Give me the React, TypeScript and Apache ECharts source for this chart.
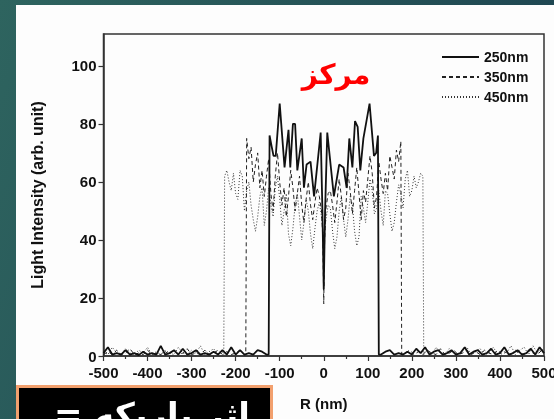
import React, { useEffect, useRef } from "react";
import * as echarts from "echarts";

const xTicks = [-500, -400, -300, -200, -100, 0, 100, 200, 300, 400, 500];
const xMinorTicks = [-450, -350, -250, -150, -50, 50, 150, 250, 350, 450];
const yTicks = [0, 20, 40, 60, 80, 100];
const seriesNames = ["250nm", "350nm", "450nm"];

const profile250: [number, number][] = [
  [-500, 1], [-490, 3], [-480, 0.5], [-470, 1], [-460, 0.5], [-450, 2], [-440, 0.5], [-430, 1], [-420, 0.3], [-410, 1.5],
  [-400, 0.5], [-390, 1], [-380, 0.5], [-370, 3.5], [-360, 0.5], [-350, 1], [-340, 2], [-330, 0.5], [-320, 2.5], [-310, 0.5],
  [-300, 1], [-290, 2], [-280, 0.5], [-270, 1], [-260, 0.5], [-250, 1.5], [-240, 0.5], [-230, 2], [-220, 0.5], [-210, 3],
  [-200, 0.5], [-190, 2], [-180, 0.5], [-170, 1], [-160, 0.5], [-150, 2], [-140, 1.5], [-130, 0.5],
  [-125, 0.5], [-123, 76], [-118, 72], [-114, 69], [-109, 69], [-100, 87], [-89, 65], [-80, 78], [-76, 65], [-70, 80],
  [-65, 80], [-60, 64], [-50, 75], [-45, 58], [-39, 66], [-30, 67], [-22, 55], [-7, 77], [-3, 50], [0, 23],
  [3, 50], [8, 77], [23, 55], [35, 66], [45, 65], [52, 58], [58, 75], [65, 65], [71, 81], [77, 79],
  [83, 64], [90, 75], [104, 87], [114, 69], [119, 70], [123, 76], [125, 0.5],
  [130, 0.5], [140, 1.5], [150, 2], [160, 0.5], [170, 1], [180, 0.5], [190, 1.5], [200, 0.5], [210, 2.5], [220, 1],
  [230, 3], [240, 0.5], [250, 1.5], [260, 2], [270, 0.5], [280, 1], [290, 2], [300, 0.5], [310, 1], [320, 3],
  [330, 0.5], [340, 1.5], [350, 2], [360, 0.5], [370, 1], [380, 2.5], [390, 0.5], [400, 1], [410, 3], [420, 0.5],
  [430, 1], [440, 2], [450, 0.5], [460, 1], [470, 2.5], [480, 0.5], [490, 3], [500, 1],
];

const profile350: [number, number][] = [
  [-500, 0.5], [-490, 1.5], [-480, 0.5], [-470, 2], [-460, 0.5], [-450, 1], [-440, 2.5], [-430, 0.5], [-420, 1], [-410, 0.5],
  [-400, 2], [-390, 0.5], [-380, 1], [-370, 0.5], [-360, 1.5], [-350, 0.5], [-340, 2], [-330, 0.5], [-320, 1], [-310, 2.5],
  [-300, 0.5], [-290, 1], [-280, 0.5], [-270, 2], [-260, 0.5], [-250, 1], [-240, 2], [-230, 0.5], [-220, 1.5], [-210, 0.5],
  [-200, 1], [-190, 2], [-180, 0.5], [-177, 0.5],
  [-175, 75], [-170, 68], [-165, 72], [-160, 60], [-155, 66], [-150, 70], [-145, 58], [-140, 64], [-135, 55], [-130, 62],
  [-125, 68], [-120, 56], [-115, 50], [-110, 62], [-105, 70], [-100, 60], [-95, 52], [-90, 58], [-85, 48], [-80, 55],
  [-75, 64], [-70, 58], [-65, 50], [-60, 56], [-55, 62], [-50, 52], [-45, 46], [-40, 54], [-35, 60], [-30, 52],
  [-25, 47], [-20, 53], [-15, 58], [-10, 55], [-5, 50], [-2, 40], [0, 18], [2, 40], [5, 51], [10, 56],
  [15, 57], [20, 52], [25, 46], [30, 53], [35, 61], [40, 55], [45, 47], [50, 51], [55, 63], [60, 57],
  [65, 49], [70, 57], [75, 65], [80, 56], [85, 47], [90, 57], [95, 53], [100, 61], [105, 69], [110, 63],
  [115, 51], [120, 55], [125, 67], [130, 61], [135, 56], [140, 63], [145, 57], [150, 69], [155, 65], [160, 61],
  [165, 71], [170, 67], [175, 74], [177, 0.5],
  [185, 1], [195, 2], [205, 0.5], [215, 1.5], [225, 0.5], [235, 2], [245, 1], [255, 0.5], [265, 2.5], [275, 0.5],
  [285, 1], [295, 2], [305, 0.5], [315, 1], [325, 2], [335, 0.5], [345, 1.5], [355, 0.5], [365, 2], [375, 1],
  [385, 0.5], [395, 2], [405, 0.5], [415, 1.5], [425, 0.5], [435, 2], [445, 1], [455, 0.5], [465, 2], [475, 1],
  [485, 0.5], [495, 2], [500, 1],
];

const profile450: [number, number][] = [
  [-500, 1.5], [-490, 0.5], [-480, 3], [-470, 1], [-460, 0.5], [-450, 2.5], [-440, 1], [-430, 0.5], [-420, 2], [-410, 1],
  [-400, 3], [-390, 0.5], [-380, 1.5], [-370, 0.5], [-360, 2], [-350, 1], [-340, 0.5], [-330, 3], [-320, 1], [-310, 0.5],
  [-300, 2], [-290, 1], [-280, 3.5], [-270, 0.5], [-260, 1.5], [-250, 2.5], [-240, 0.5], [-230, 1.5], [-227, 0.5],
  [-225, 62], [-220, 64], [-215, 60], [-210, 57], [-205, 63], [-200, 56], [-195, 54], [-190, 64], [-185, 62], [-180, 50],
  [-175, 57], [-170, 60], [-165, 52], [-160, 47], [-155, 43], [-150, 48], [-145, 55], [-140, 58], [-135, 45], [-130, 50],
  [-125, 58], [-120, 52], [-115, 48], [-110, 58], [-105, 62], [-100, 54], [-95, 45], [-90, 50], [-85, 56], [-80, 42],
  [-75, 38], [-70, 44], [-65, 52], [-60, 56], [-55, 48], [-50, 40], [-45, 46], [-40, 54], [-35, 50], [-30, 42],
  [-25, 37], [-20, 44], [-15, 50], [-10, 53], [-5, 48], [0, 40], [5, 47], [10, 52], [15, 51], [20, 43],
  [25, 37], [30, 41], [35, 50], [40, 55], [45, 47], [50, 41], [55, 47], [60, 55], [65, 52], [70, 43],
  [75, 38], [80, 41], [85, 55], [90, 51], [95, 46], [100, 53], [105, 61], [110, 57], [115, 49], [120, 51],
  [125, 57], [130, 50], [135, 45], [140, 57], [145, 56], [150, 49], [155, 43], [160, 46], [165, 53], [170, 59],
  [175, 56], [180, 51], [185, 61], [190, 64], [195, 55], [200, 57], [205, 62], [210, 58], [215, 60], [220, 63],
  [225, 62], [227, 0.5],
  [235, 2], [245, 0.5], [255, 3], [265, 1], [275, 0.5], [285, 2.5], [295, 1], [305, 0.5], [315, 2], [325, 3],
  [335, 0.5], [345, 1.5], [355, 2.5], [365, 0.5], [375, 1], [385, 3], [395, 0.5], [405, 2], [415, 1], [425, 3.5],
  [435, 0.5], [445, 2], [455, 3], [465, 0.5], [475, 3.5], [485, 1], [495, 2.5], [500, 1],
];

const FONT = "'Liberation Sans', Arial, sans-serif";

export default function App() {
  const ref = useRef<HTMLDivElement>(null);
  useEffect(() => {
    if (!ref.current) return;
    const chart = echarts.init(ref.current, undefined, { renderer: "svg" });
    const labelStyle = { fontFamily: FONT, fontWeight: "bold", fontSize: 15, color: "#111" };
    const axisLine = { show: true, onZero: false, lineStyle: { color: "#333", width: 1.5 } };
    chart.setOption({
      animation: false,
      backgroundColor: "transparent",
      graphic: [
        {
          type: "rect", z: -100, silent: true,
          shape: { x: 0, y: 0, width: 554, height: 419 },
          style: {
            fill: new echarts.graphic.LinearGradient(0, 0, 1, 0.3, [
              { offset: 0, color: "#2e645f" },
              { offset: 1, color: "#1e4551" },
            ]),
          },
        },
        {
          type: "rect", z: -99, silent: true,
          shape: { x: 16, y: 5, width: 538, height: 414 },
          style: { fill: "#fdfdfd" },
        },
        {
          type: "text", z: 50, x: 336, y: 74,
          style: { text: "مرکز", fill: "#ff0000", font: "bold 28px 'DejaVu Sans'", align: "center", verticalAlign: "middle" },
        },
        {
          type: "rect", z: 100,
          shape: { x: 17.5, y: 386.5, width: 254, height: 40 },
          style: { fill: "#000", stroke: "#f2a06e", lineWidth: 3 },
        },
        {
          type: "text", z: 101, x: 152, y: 398,
          style: { text: "اثر باریکه =\u200F", fill: "#fff", font: "bold 34px 'DejaVu Sans'", align: "center", verticalAlign: "top" },
        },
      ],
      grid: {
        left: 103.5, right: 10, top: 34, bottom: 63,
        outerBoundsMode: "none",
        containLabel: false,
        show: true, borderColor: "#333", borderWidth: 1.5, backgroundColor: "transparent",
      },
      legend: {
        data: seriesNames,
        orient: "vertical",
        left: 436, top: 45,
        itemWidth: 37, itemHeight: 14, itemGap: 6,
        itemStyle: { opacity: 0 },
        textStyle: { fontFamily: FONT, fontWeight: "bold", fontSize: 14, color: "#111" },
      },
      xAxis: [
        {
          type: "value", min: -500, max: 500,
          axisLine,
          axisTick: { show: true, customValues: xTicks, length: 5, lineStyle: { color: "#333", width: 1.2 } },
          axisLabel: { ...labelStyle, customValues: xTicks, margin: 9 },
          splitLine: { show: false },
          name: "R (nm)", nameLocation: "middle", nameGap: 40,
          nameTextStyle: { fontFamily: FONT, fontWeight: "bold", fontSize: 15, color: "#111" },
        },
        {
          type: "value", min: -500, max: 500, position: "bottom", gridIndex: 0,
          axisLine: { show: false },
          axisTick: { show: true, customValues: xMinorTicks, length: 3, lineStyle: { color: "#333", width: 1.2 } },
          axisLabel: { show: false },
          splitLine: { show: false },
        },
      ],
      yAxis: {
        type: "value", min: 0, max: 111,
        axisLine,
        axisTick: { show: true, customValues: yTicks, length: 5, lineStyle: { color: "#333", width: 1.2 } },
        axisLabel: { ...labelStyle, customValues: yTicks, margin: 7 },
        splitLine: { show: false },
        name: "Light Intensity (arb. unit)", nameLocation: "middle", nameGap: 58, nameRotate: 90,
        nameTextStyle: { fontFamily: FONT, fontWeight: "bold", fontSize: 16, color: "#111" },
      },
      series: [
        {
          name: seriesNames[0], type: "line", symbol: "none", data: profile250, z: 4,
          lineStyle: { color: "#111", width: 1.8, type: "solid" },
          itemStyle: { color: "#111" },
        },
        {
          name: seriesNames[1], type: "line", symbol: "none", data: profile350, z: 3,
          lineStyle: { color: "#222", width: 1, type: [4, 3] },
          itemStyle: { color: "#222" },
        },
        {
          name: seriesNames[2], type: "line", symbol: "none", data: profile450, z: 2,
          lineStyle: { color: "#333", width: 1, type: [1, 2] },
          itemStyle: { color: "#333" },
        },
      ],
    });
    return () => chart.dispose();
  }, []);
  return (
    <div
      ref={ref}
      style={{ position: "fixed", left: 0, top: 0, width: 554, height: 419 }}
    />
  );
}
